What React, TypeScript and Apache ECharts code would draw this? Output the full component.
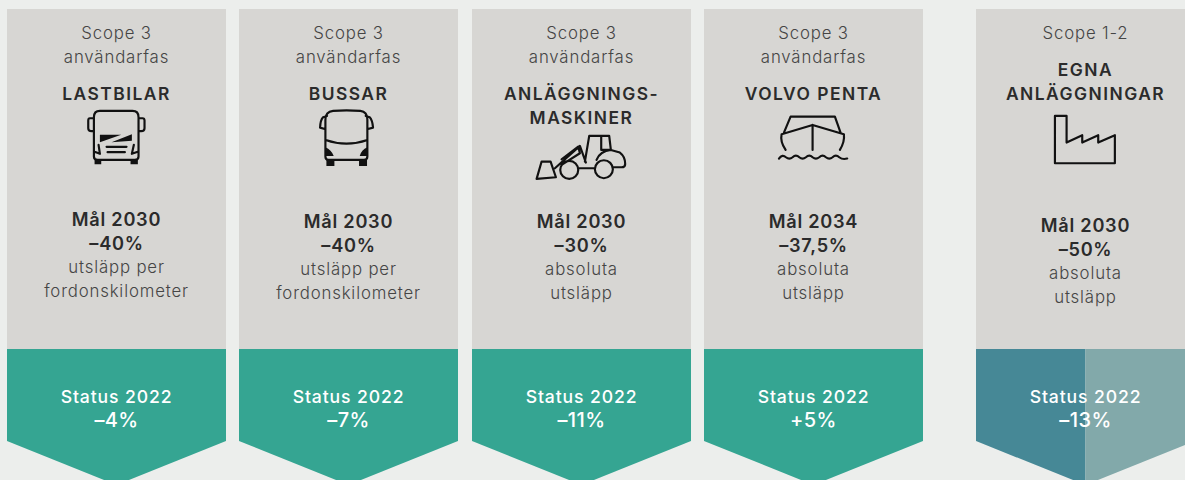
import React, { useEffect, useRef } from "react";
import * as echarts from "echarts";

const scopes = ["Scope 3", "Scope 3", "Scope 3", "Scope 3", "Scope 1-2"];
const phases = ["användarfas", "användarfas", "användarfas", "användarfas", ""];
const names = [["LASTBILAR"], ["BUSSAR"], ["ANLÄGGNINGS-", "MASKINER"], ["VOLVO PENTA"], ["EGNA", "ANLÄGGNINGAR"]];
const targetYears = ["Mål 2030", "Mål 2030", "Mål 2030", "Mål 2034", "Mål 2030"];
const targetValues = ["–40%", "–40%", "–30%", "–37,5%", "–50%"];
const targetNotes = [
  ["utsläpp per", "fordonskilometer"],
  ["utsläpp per", "fordonskilometer"],
  ["absoluta", "utsläpp"],
  ["absoluta", "utsläpp"],
  ["absoluta", "utsläpp"],
];
const statusLabel = "Status 2022";
const statusValues = ["–4%", "–7%", "–11%", "+5%", "–13%"];

const ICONS = [
  {
    ox: 349.5, oy: 0,
    line: "M300 333H398Q416 333 416 352V470Q416 480 405 480H293Q282 480 282 470V352Q282 333 300 333Z M282 355H270Q265 355 265 362V385Q265 394 275 394H282 M416 355H428Q434 355 434 362V385Q434 394 424 394H416 M320 441H380 M323 457H375 M282 455L300 462L296 435 M416 455L396 462L402 435",
    fill: "M300 405H364L300 427Z M335 427L396 403V423Z M284 480H304V493H284Z M392 480H414V493H392Z",
  },
  {
    ox: 356, oy: 60,
    line: "M310 153Q350 150 392 153Q413 155 413 180V290Q413 300 403 300H296Q287 300 287 290V180Q287 155 310 153Z M288 240Q350 262 413 240 M292 168L280 172Q272 180 271 203L285 207 M408 168L420 172Q428 180 430 203L415 207",
    fill: "M287 262Q305 270 312 288L287 288Z M413 262Q395 270 390 288L413 288Z M290 300H314V318H290Z M388 300H412V318H388Z",
  },
  {
    ox: 304.5, oy: 70,
    line: "M295 300A27 27 0 1 1 241 300A27 27 0 1 1 295 300Z M399 298A27 27 0 1 1 345 298A27 27 0 1 1 399 298Z M315 275L328 198H388L393 240L420 248Q436 260 436 282Q436 292 425 292H400 M364 198V240H393 M350 270Q360 244 393 240 M295 295H345 M225 295L300 228L318 278 M245 268L295 230L300 250L245 285 M170 327L185 275H212L228 322Z",
    fill: "",
  },
  {
    ox: 250.5, oy: 70,
    line: "M162 188L182 140H315L332 188 M155 193L248 165L342 193 M155 193Q150 215 167 240 M342 193Q345 215 330 240 M248 165V240 M147 266Q157 252 168 262Q178 270 188 262Q198 252 208 262Q218 270 228 262Q238 252 248 262Q258 270 268 262Q278 252 288 262Q298 270 308 262Q318 252 328 262Q338 270 352 266",
    fill: "",
  },
  {
    ox: 301.5, oy: 50,
    line: "M210 198H245V278L292 256V278L340 256V278L390 256V340H210Z",
    fill: "",
  },
];

const LEFT = [7, 239, 472, 704, 976];
const WIDTH = 219;
const TARGET_Y = [219, 221, 221, 221, 225];
const FONT = "Inter, 'Noto Sans', sans-serif";
const SIZE_BODY = 16.8;
const SIZE_NAME = 17.4;
const SIZE_TARGET = 18.2;
const SIZE_STATUS = 17.6;
const SIZE_VALUE = 20;

const CSS = `
#root svg text { letter-spacing: 0.05em; }
#root svg text[style*="${SIZE_NAME}px"] { letter-spacing: 0.085em; }
#root svg text[style*="${SIZE_TARGET}px"] { letter-spacing: 0.04em; }
#root svg text[style*="${SIZE_VALUE}px"] { letter-spacing: 0.02em; }
`;

function txt(text: string, x: number, y: number, size: number, weight: number, fill: string) {
  return {
    type: "text", x, y, silent: true,
    style: { text, fill, font: `${weight} ${size}px ${FONT}`, textAlign: "center", textVerticalAlign: "middle" },
  };
}

export default function App() {
  const ref = useRef<HTMLDivElement>(null);
  useEffect(() => {
    document.body.style.margin = "0";
    ICONS.forEach((ic, i) => {
      echarts.graphic.registerShape("iconLine" + i, echarts.graphic.extendPath(ic.line, {}));
      if (ic.fill) echarts.graphic.registerShape("iconFill" + i, echarts.graphic.extendPath(ic.fill, {}));
    });
    const chart = echarts.init(ref.current!, undefined, { renderer: "svg" });
    const els: any[] = [];
    LEFT.forEach((l, i) => {
      const cx = l + WIDTH / 2;
      const r = l + WIDTH;
      const apexY = 485;
      const DARK = "#2b2b2b";
      const MID = "#454545";
      els.push({ type: "rect", silent: true, shape: { x: l, y: 9, width: WIDTH, height: 340 }, style: { fill: "#d7d6d3" } });
      if (i < 4) {
        els.push({
          type: "polygon", silent: true,
          shape: { points: [[l, 349], [r, 349], [r, 441], [cx, apexY], [l, 441]] },
          style: { fill: "#35a592" },
        });
      } else {
        els.push({
          type: "polygon", silent: true,
          shape: { points: [[l, 349], [cx, 349], [cx, apexY], [l, 441]] },
          style: { fill: "#468896" },
        });
        els.push({
          type: "polygon", silent: true,
          shape: { points: [[cx, 349], [r, 349], [r, 441], [cx, apexY]] },
          style: { fill: "#82a9aa" },
        });
      }
      els.push(txt(scopes[i], cx, 33, SIZE_BODY, 300, MID));
      if (phases[i]) els.push(txt(phases[i], cx, 57, SIZE_BODY, 300, MID));
      const nameY = i === 4 ? 69 : 93;
      names[i].forEach((n, k) => els.push(txt(n, cx, nameY + k * 24, SIZE_NAME, 600, DARK)));
      const ty = TARGET_Y[i];
      els.push(txt(targetYears[i], cx, ty, SIZE_TARGET, 600, DARK));
      els.push(txt(targetValues[i], cx, ty + 24, SIZE_TARGET, 600, DARK));
      targetNotes[i].forEach((n, k) => els.push(txt(n, cx, ty + 48 + k * 24, SIZE_BODY, 300, MID)));
      els.push(txt(statusLabel, cx, 396, SIZE_STATUS, 500, "#ffffff"));
      els.push(txt(statusValues[i], cx, 420, SIZE_VALUE, 500, "#ffffff"));
      const ic = ICONS[i];
      const base = { silent: true, x: cx - ic.ox / 3, y: ic.oy, scaleX: 1 / 3, scaleY: 1 / 3 };
      els.push({ ...base, type: "iconLine" + i, style: { fill: "none", stroke: "#111111", lineWidth: 6.5, lineJoin: "round", lineCap: "round" } });
      if (ic.fill) els.push({ ...base, type: "iconFill" + i, style: { fill: "#111111", stroke: "none" } });
    });
    chart.setOption({ animation: false, backgroundColor: "#eceeec", graphic: { elements: els } });
    return () => chart.dispose();
  }, []);
  return (
    <div style={{ position: "absolute", left: 0, top: 0, width: 1185, height: 480, overflow: "hidden" }}>
      <style>{CSS}</style>
      <div ref={ref} style={{ width: 1185, height: 480 }} />
    </div>
  );
}
